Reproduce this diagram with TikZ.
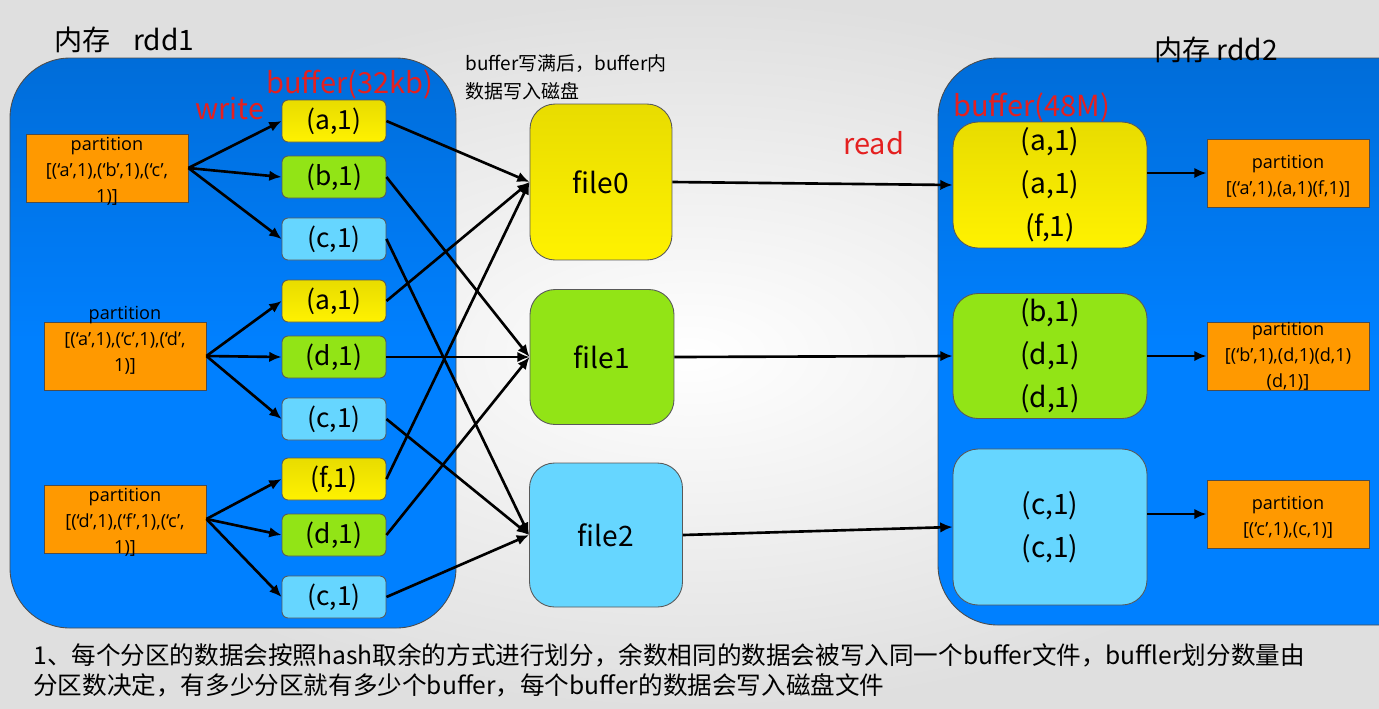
\documentclass[tikz,border=0pt]{standalone}
\usepackage{fontspec}
\setmainfont{Noto Sans CJK SC}
\newfontfamily\latinfont{Open Sans}
\usetikzlibrary{arrows.meta}
\definecolor{memblue}{RGB}{0,128,255}
\definecolor{yell}{RGB}{255,242,0}
\definecolor{yelltop}{RGB}{232,220,0}
\definecolor{bufgreen}{RGB}{146,228,22}
\definecolor{bufcyan}{RGB}{102,214,255}
\definecolor{partorange}{RGB}{255,153,0}
\definecolor{notered}{RGB}{228,32,32}
\tikzset{
	mem/.style={draw=gray!60!black, line width=0.5pt, rounded corners=1.2cm, top color=memblue!85!black, bottom color=memblue, middle color=memblue},
	bufbox/.style={draw=gray!70!black, line width=0.5pt, rounded corners=3.5pt, minimum width=2.08cm, minimum height=0.84cm, inner sep=0pt, font=\fontsize{15}{18}\selectfont},
	ybuf/.style={top color=yelltop, bottom color=yell},
	gbuf/.style={fill=bufgreen},
	cbuf/.style={fill=bufcyan},
	filebox/.style={draw=gray!70!black, line width=0.5pt, rounded corners=0.5cm, inner sep=0pt, font=\fontsize{16}{20}\selectfont},
	rbufbox/.style={draw=gray!70!black, line width=0.5pt, rounded corners=0.5cm, minimum width=3.88cm, inner sep=0pt, align=center, font=\fontsize{16}{24.5}\selectfont},
	partbox/.style={draw=gray!60!black, line width=0.5pt, fill=partorange, minimum width=3.24cm, minimum height=1.36cm, inner sep=0pt},
	parttext/.style={align=center, font=\latinfont\fontsize{10.3}{14.8}\selectfont, inner sep=0pt},
	redtext/.style={text=notered, font=\fontsize{16.5}{18}\selectfont, inner sep=0pt},
	memlabel/.style={font=\fontsize{16}{18}\selectfont, inner sep=0pt},
	notetext/.style={align=left, font=\fontsize{10.8}{16}\selectfont, inner sep=0pt},
	bottomtext/.style={align=left, font=\fontsize{14}{17}\selectfont, inner sep=0pt},
	arr/.style={-{Latex[length=7pt,width=6pt]}, line width=1.5pt},
}
\begin{document}
\begin{tikzpicture}[x=0.02cm, y=-0.02cm]
	\useasboundingbox (0,0) rectangle (1379,708);
	\clip (0,0) rectangle (1379,708);
	\shade[inner color=white, outer color=gray!25] (0,0) rectangle (1379,708);
	% memory areas
	\path[mem] (10,58) rectangle (456,628);
	\path[mem] (938,58) rectangle (1440,625);
	% labels
	\node[memlabel, anchor=west] (rdd1) at (54,40) {内存\hspace{0.8em}rdd1};
	\node[redtext, anchor=west] (buf1) at (266,84) {buffer(32kb)};
	\node[redtext, anchor=west] (write) at (195,108) {write};
	\node[notetext, anchor=north west] (fullnote) at (465,54) {buffer写满后，buffer内\\数据写入磁盘};
	\node[redtext, anchor=west] (read) at (843,143) {read};
	\node[memlabel, anchor=west] (rdd2) at (1154,50) {内存 rdd2};
	\node[redtext, anchor=west] (buf2) at (953,107) {buffer(48M)};
	% partitions of rdd1
	\node[partbox, label={[parttext, yshift=-2pt]center:{partition\\{[}(‘a’,1),(‘b’,1),(‘c’,\\1)]}}] (p1) at (107,168) {};
	\node[partbox, label={[parttext, yshift=9pt]center:{partition\\{[}(‘a’,1),(‘c’,1),(‘d’,\\1)]}}] (p2) at (125,356) {};
	\node[partbox, label={[parttext, yshift=-2pt]center:{partition\\{[}(‘d’,1),(‘f’,1),(‘c’,\\1)]}}] (p3) at (125,519) {};
	% buffers of rdd1
	\foreach \nm/\yy/\txt/\sty in {b1/121/{(a,1)}/ybuf, b2/177/{(b,1)}/gbuf, b3/239/{(c,1)}/cbuf, b4/301/{(a,1)}/ybuf, b5/357/{(d,1)}/gbuf, b6/419/{(c,1)}/cbuf, b7/479/{(f,1)}/ybuf, b8/535/{(d,1)}/gbuf, b9/597/{(c,1)}/cbuf}
		\node[bufbox, \sty] (\nm) at (334,\yy) {\txt};
	% disk files
	\node[filebox, ybuf, minimum width=2.84cm, minimum height=3.12cm] (f0) at (601,182) {file0};
	\node[filebox, gbuf, minimum width=2.88cm, minimum height=2.7cm] (f1) at (602,357) {file1};
	\node[filebox, cbuf, minimum width=3.06cm, minimum height=2.88cm] (f2) at (606,535) {file2};
	% buffers of rdd2
	\node[rbufbox, ybuf, minimum height=2.52cm] (r0) at (1050,185) {(a,1)\\(a,1)\\(f,1)};
	\node[rbufbox, gbuf, minimum height=2.5cm] (r1) at (1050,356) {(b,1)\\(d,1)\\(d,1)};
	\node[rbufbox, cbuf, minimum height=3.12cm] (r2) at (1050,527) {(c,1)\\(c,1)};
	% partitions of rdd2
	\node[partbox, label={[parttext, yshift=-2pt]center:{partition\\{[}(‘a’,1),(a,1)(f,1)]}}] (q0) at (1288,173) {};
	\node[partbox, label={[parttext]center:{partition\\{[}(‘b’,1),(d,1)(d,1)\\(d,1)]}}] (q1) at (1288,356) {};
	\node[partbox, label={[parttext, yshift=-2pt]center:{partition\\{[}(‘c’,1),(c,1)]}}] (q2) at (1288,514) {};
	% arrows
	\foreach \s/\t in {p1/b1,p1/b2,p1/b3,p2/b4,p2/b5,p2/b6,p3/b7,p3/b8,p3/b9}
		\draw[arr] (\s.east) -- (\t.west);
	\foreach \s/\t in {b1/f0,b2/f1,b3/f2,b4/f0,b5/f1,b6/f2,b7/f0,b8/f1,b9/f2}
		\draw[arr] (\s.east) -- (\t.west);
	\foreach \s/\t in {f0/r0,f1/r1,f2/r2}
		\draw[arr] (\s.east) -- (\t.west);
	\foreach \s/\t in {r0/q0,r1/q1,r2/q2}
		\draw[arr] (\s.east |- \t.west) -- (\t.west);
	% summary
	\node[bottomtext, anchor=north west] (summary) at (33,643) {1、每个分区的数据会按照hash取余的方式进行划分，余数相同的数据会被写入同一个buffer文件，buffler划分数量由\\分区数决定，有多少分区就有多少个buffer，每个buffer的数据会写入磁盘文件};
\end{tikzpicture}
\end{document}
